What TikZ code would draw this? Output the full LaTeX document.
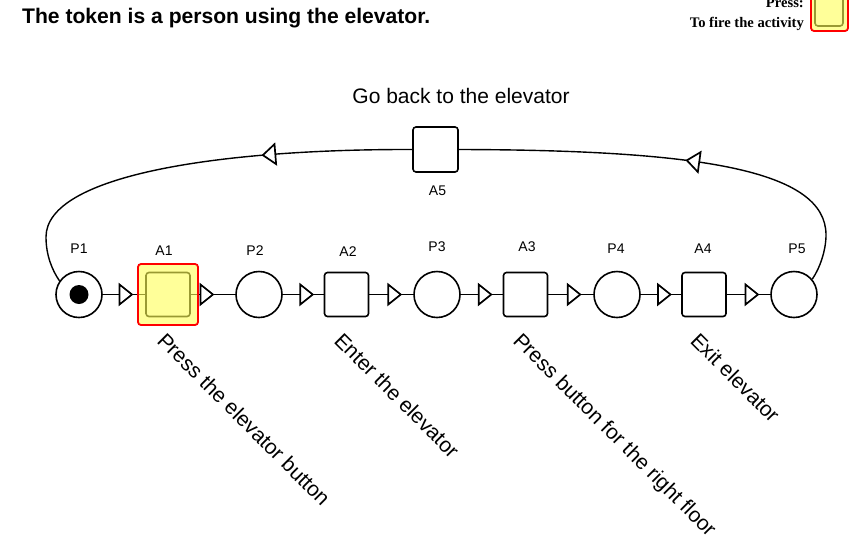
\documentclass[tikz,border=0pt]{standalone}
\usepackage{fontspec}
\setmainfont{Liberation Sans}
\newfontfamily\legendfont{Liberation Serif}
\usetikzlibrary{decorations.markings}
\definecolor{hiyellow}{RGB}{255,255,85}
\definecolor{hired}{RGB}{255,0,0}
\newcommand\flowtri[1]{\draw[line width=1.7pt, fill=white, line join=miter, solid] (#1-6,-10) -- (#1+6.5,0) -- (#1-6,10) -- cycle;}
\begin{document}
\begin{tikzpicture}[x=1pt,y=-1pt,
  place/.style={circle, draw, line width=1.6pt, minimum size=46pt, inner sep=0pt, fill=white},
  trans/.style={rectangle, rounded corners=3pt, draw, line width=1.6pt, minimum size=44pt, inner sep=0pt, fill=white},
  hilite/.style={rectangle, rounded corners=3pt, draw=hired, line width=1.8pt, fill=hiyellow, fill opacity=0.6, inner sep=0pt},
  lbl/.style={font=\fontsize{14}{16}\selectfont, anchor=base, inner sep=0pt},
  bigtext/.style={font=\fontsize{21}{25}\selectfont, inner sep=0pt},
  rotlbl/.style={bigtext, rotate=-45, anchor=north west},
  legtext/.style={font=\legendfont\bfseries\fontsize{14.6}{17}\selectfont, anchor=base east, inner sep=0pt},
  arc/.style={line width=1.8pt, postaction={decorate},
    decoration={markings, mark=at position 0.5 with {\flowtri{#1}}}},
  arc/.default=3,
  looparc/.style={line width=1.4pt, postaction={decorate},
    decoration={markings, mark=at position #1 with {\flowtri{0}}}}
]
\useasboundingbox (0,0) rectangle (856,547);
\clip (0,0) rectangle (856,547);

% title and legend
\node[anchor=base west, font=\bfseries\fontsize{21.1}{25}\selectfont, inner sep=0pt] (title) at (22,23) {The token is a person using the elevator.};
\node[legtext] (legpress) at (804,7) {Press:};
\node[legtext] (legfire) at (804,27) {To fire the activity};
\node[trans, minimum width=28pt, minimum height=40pt] (legbox) at (829,6) {};
\node[hilite, minimum width=37pt, minimum height=50pt] (leghl) at (829.5,6) {};

% places and transitions
\node[place] (P1) at (79,294.5) {};
\node[circle, fill, minimum size=19pt, inner sep=0pt] (tok) at (P1) {};
\node[trans] (A1) at (168,294.5) {};
\node[place] (P2) at (259,294.5) {};
\node[trans] (A2) at (346.5,294.5) {};
\node[place] (P3) at (437,294.5) {};
\node[trans] (A3) at (525.5,294.5) {};
\node[place] (P4) at (617,294.5) {};
\node[trans] (A4) at (704,294.5) {};
\node[place] (P5) at (794,294.5) {};
\node[trans, minimum size=45pt] (A5) at (435.5,149.5) {};

% labels
\node[lbl] (lP1) at (79,253) {P1};
\node[lbl] (lA1) at (164,255) {A1};
\node[lbl] (lP2) at (255,255) {P2};
\node[lbl] (lA2) at (348,256) {A2};
\node[lbl] (lP3) at (437,251) {P3};
\node[lbl] (lA3) at (527,251) {A3};
\node[lbl] (lP4) at (616,253) {P4};
\node[lbl] (lA4) at (703,253) {A4};
\node[lbl] (lP5) at (797,253) {P5};
\node[lbl] (lA5) at (437.5,195) {A5};
\node[bigtext, anchor=base] (goback) at (461,103) {Go back to the elevator};

\node[rotlbl] (t1) at (167,331) {Press the elevator button};
\node[rotlbl] (t2) at (344,331) {Enter the elevator};
\node[rotlbl] (t3) at (523,331) {Press button for the right floor};
\node[rotlbl] (t4) at (700,331) {Exit elevator};

% connectors
\draw[arc=1.5] (P1) -- (A1);
\draw[arc=-6.5] (A1) -- (P2);
\draw[arc] (P2) -- (A2);
\draw[arc] (A2) -- (P3);
\draw[arc] (P3) -- (A3);
\draw[arc] (A3) -- (P4);
\draw[arc] (P4) -- (A4);
\draw[arc] (A4) -- (P5);
\draw[looparc=211pt] (P5.40) .. controls (820,268) and (826,250) .. (826,235)
  .. controls (826,170) and (700,150) .. (A5.east);
\draw[looparc=143pt] (A5.west) .. controls (220,149) and (46,175) .. (46,237)
  .. controls (46,255) and (52,270) .. (P1.145);

% highlight of the activity that can fire
\node[hilite, minimum width=60pt, minimum height=61pt] (A1hl) at (168,294.5) {};
\end{tikzpicture}
\end{document}
